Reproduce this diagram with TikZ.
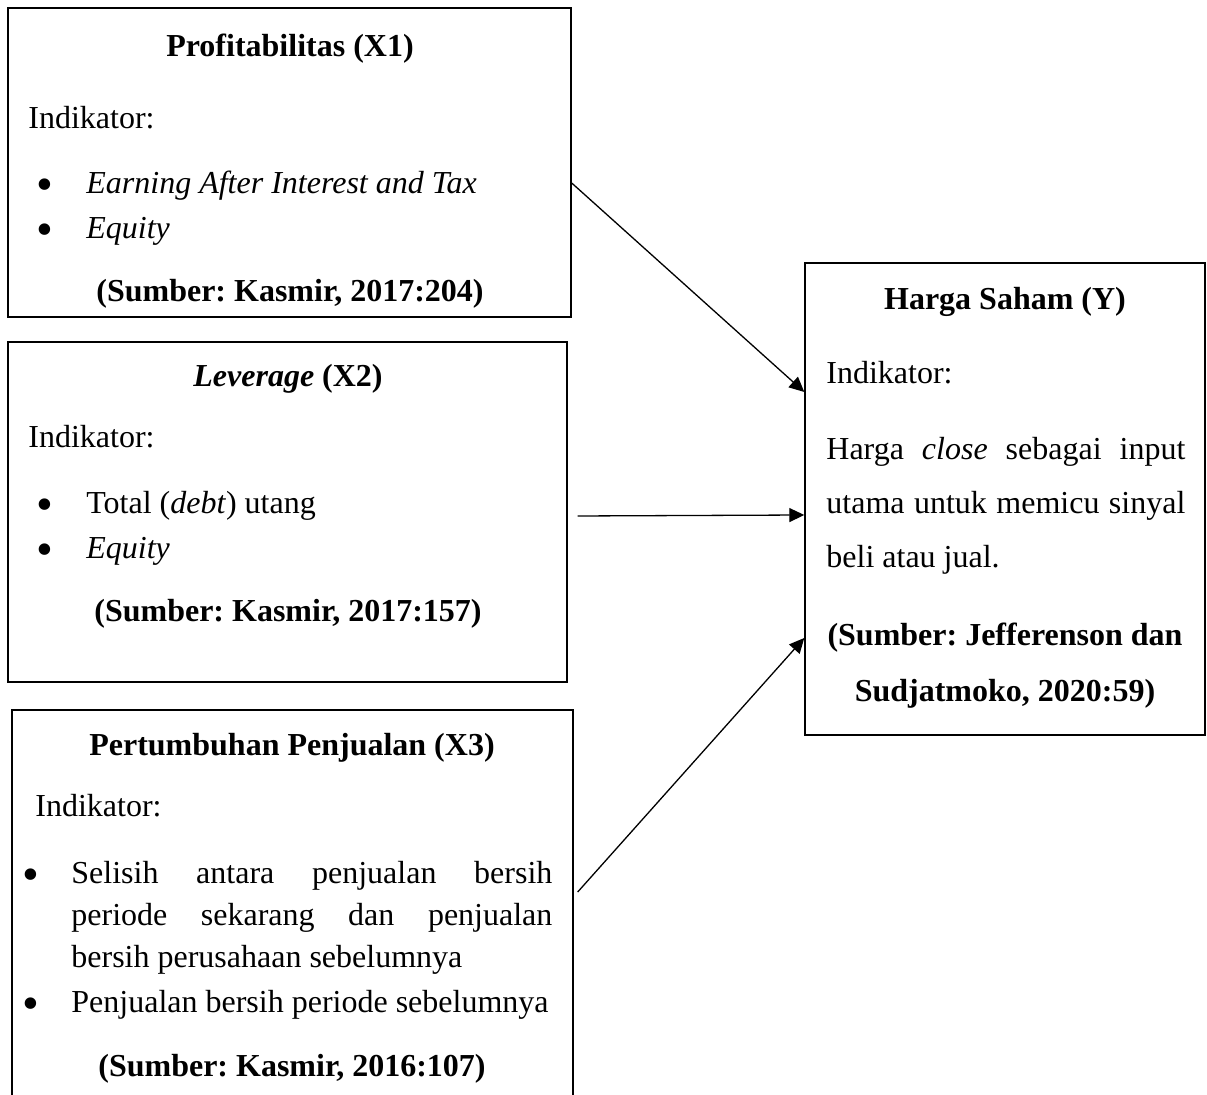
\documentclass[tikz,border=0pt]{standalone}
\usepackage{fontspec}
\setmainfont{Liberation Serif}
\usetikzlibrary{arrows.meta}
\frenchspacing

\begin{document}
\begin{tikzpicture}[x=0.5pt,y=-0.5pt,
    kotak/.style={draw,line width=0.7pt,rectangle,inner sep=0pt},
    teks/.style={inner sep=0pt,font=\fontsize{16}{20}\selectfont},
    titik/.style={inner sep=0pt,anchor=base,font=\fontsize{24}{24}\selectfont},
    panah/.style={line width=0.65pt,-{Triangle[length=7.5pt,width=7pt]}}]
            \useasboundingbox (0,0) rectangle (1207,1095);
            \clip (0,0) rectangle (1207,1095);
            \node[kotak,minimum width=281.5pt,minimum height=154.5pt] (prof) at (289.5,162.5) {};
            \node[kotak,minimum width=279.5pt,minimum height=170pt] (lev) at (287.5,512) {};
            \node[kotak,minimum width=280.5pt,minimum height=202.5pt] (tumbuh) at (292.5,912.5) {};
            \node[kotak,minimum width=200pt,minimum height=236pt] (harga) at (1005,499) {};
            % X1
            \node[teks,anchor=base] (prof-j) at (290,57) {\textbf{Profitabilitas (X1)}};
            \node[teks,anchor=base west] (prof-i) at (28,129) {Indikator:};
            \node[titik] (prof-b1) at (45,201) {\textbullet};
            \node[teks,anchor=base west] (prof-a) at (86,194) {\textit{Earning After Interest and Tax}};
            \node[titik] (prof-b2) at (45,246) {\textbullet};
            \node[teks,anchor=base west] (prof-b) at (86,239) {\textit{Equity}};
            \node[teks,anchor=base] (prof-s) at (290,302) {\textbf{(Sumber: Kasmir, 2017:204)}};
            % X2
            \node[teks,anchor=base] (lev-j) at (288,387) {\textbf{\textit{Leverage}} \textbf{(X2)}};
            \node[teks,anchor=base west] (lev-i) at (28,448) {Indikator:};
            \node[titik] (lev-b1) at (45,521) {\textbullet};
            \node[teks,anchor=base west] (lev-a) at (86,514) {Total (\textit{debt}) utang};
            \node[titik] (lev-b2) at (45,566) {\textbullet};
            \node[teks,anchor=base west] (lev-b) at (86,559) {\textit{Equity}};
            \node[teks,anchor=base] (lev-s) at (288,622) {\textbf{(Sumber: Kasmir, 2017:157)}};
            % X3
            \node[teks,anchor=base] (tumbuh-j) at (292,756) {\textbf{Pertumbuhan Penjualan (X3)}};
            \node[teks,anchor=base west] (tumbuh-i) at (35,817) {Indikator:};
            \node[titik] (tumbuh-b1) at (31,891) {\textbullet};
            \node[teks,anchor=base west,text width=240.5pt,align=justify,font=\fontsize{16}{21}\selectfont] (tumbuh-a) at (71,884)
                {Selisih antara penjualan bersih\linebreak periode sekarang dan penjualan\linebreak bersih perusahaan sebelumnya};
            \node[titik] (tumbuh-b2) at (31,1020) {\textbullet};
            \node[teks,anchor=base west] (tumbuh-b) at (71,1013) {Penjualan bersih periode sebelumnya};
            \node[teks,anchor=base] (tumbuh-s) at (292,1077) {\textbf{(Sumber: Kasmir, 2016:107)}};
            % Y
            \node[teks,anchor=base] (harga-j) at (1005,310) {\textbf{Harga Saham (Y)}};
            \node[teks,anchor=base west] (harga-i) at (826,384) {Indikator:};
            \node[teks,anchor=base west,text width=179.5pt,align=justify,font=\fontsize{16}{27}\selectfont] (harga-a) at (826,460)
                {Harga \textit{close} sebagai input\linebreak utama untuk memicu sinyal\linebreak beli atau jual.};
            \node[teks,anchor=base] (harga-s1) at (1005,646) {\textbf{(Sumber: Jefferenson dan}};
            \node[teks,anchor=base] (harga-s2) at (1005,702) {\textbf{Sudjatmoko, 2020:59)}};
            \draw[panah] ([yshift=-10.25pt]prof.east) -- ([yshift=53.5pt]harga.west);
            \draw[panah] ([xshift=5pt,yshift=-2pt]lev.east) -- ([yshift=-8pt]harga.west);
            \draw[panah] ([xshift=2pt,yshift=10.25pt]tumbuh.east) -- ([yshift=-69.5pt]harga.west);
\end{tikzpicture}
\end{document}
